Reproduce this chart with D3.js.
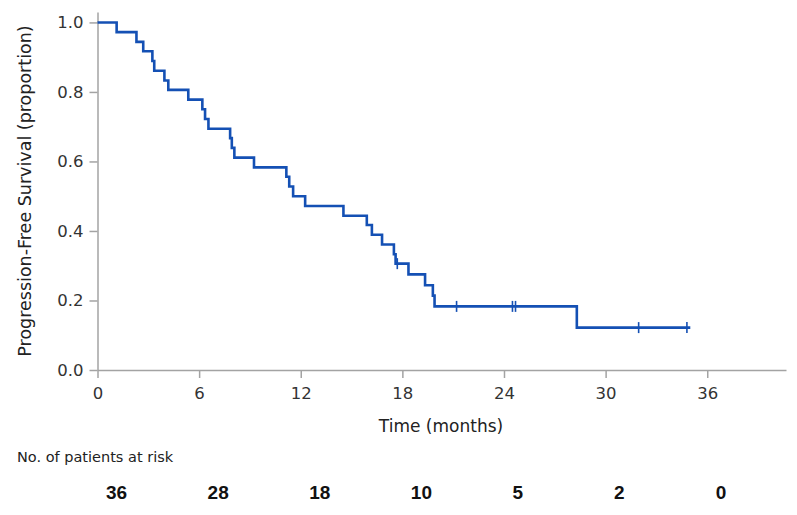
<!DOCTYPE html>
<html lang="en">
	<head>
		<meta charset="utf-8">
		<title>Progression-free survival</title>
		<script src="https://d3js.org/d3.v7.min.js"></script>
		<style type="text/css">
			body { margin: 0; background: #fff; }
			.axis path, .axis line { stroke: #a3a3a3; stroke-width: 1.5; }
			.axis text { font-family: "DejaVu Sans", sans-serif; font-size: 16.5px; fill: #333; }
		</style>
	</head>
	<body>
		<script type="text/javascript">
			//Width and height
			var w = 797;
			var h = 515;

			//Kaplan-Meier steps: time (months) and survival after the drop
			var stepTimes = [1.13, 2.3, 2.7, 3.24, 3.35, 3.95, 4.18, 5.36, 6.19, 6.35, 6.55,
				7.83, 7.93, 8.08, 9.24, 11.15, 11.32, 11.55, 12.26, 14.52, 15.9, 16.2, 16.8,
				17.5, 17.6, 18.36, 19.34, 19.8, 19.9, 28.3];
			var stepSurvival = [0.972, 0.944, 0.917, 0.889, 0.861, 0.833, 0.806, 0.778, 0.750, 0.722, 0.694,
				0.667, 0.639, 0.611, 0.583, 0.556, 0.528, 0.500, 0.472, 0.444, 0.417, 0.389, 0.361,
				0.333, 0.306, 0.275, 0.244, 0.214, 0.183, 0.122];
			var lastTime = 35.0;
			var lastSurvival = 0.122;

			//Censored observations
			var censorTimes = [17.7, 21.2, 24.5, 24.68, 31.95, 34.8];
			var censorSurvival = [0.306, 0.183, 0.183, 0.183, 0.122, 0.122];

			//Axis ticks and patients at risk
			var xTicks = [0, 6, 12, 18, 24, 30, 36];
			var yTicks = [0, 0.2, 0.4, 0.6, 0.8, 1.0];
			var atRisk = [36, 28, 18, 10, 5, 2, 0];

			var x = d3.scaleLinear().domain([0, 40.65]).range([97.5, 786]);
			var y = d3.scaleLinear().domain([0, 1.03]).range([370, 12]);

			//Create SVG element
			var svg = d3.select("body")
						.append("svg")
						.attr("width", w)
						.attr("height", h);

			//Axes
			svg.append("g")
				.attr("class", "axis")
				.attr("transform", "translate(0," + y(0) + ")")
				.call(d3.axisBottom(x).tickValues(xTicks).tickSizeInner(8).tickSizeOuter(0).tickPadding(9))
				.selectAll("text").attr("dy", "0.71em");

			svg.append("g")
				.attr("class", "axis")
				.attr("transform", "translate(" + x(0) + ",0)")
				.call(d3.axisLeft(y).tickValues(yTicks).tickFormat(d3.format(".1f")).tickSizeInner(8).tickSizeOuter(0).tickPadding(6));

			//Survival curve
			var pts = [[0, 1]];
			for (var i = 0; i < stepTimes.length; i++) {
				pts.push([stepTimes[i], stepSurvival[i]]);
			}
			pts.push([lastTime, lastSurvival]);

			var line = d3.line()
				.x(function(d) { return x(d[0]); })
				.y(function(d) { return y(d[1]); })
				.curve(d3.curveStepAfter);

			svg.append("path")
				.datum(pts)
				.attr("d", line)
				.attr("fill", "none")
				.attr("stroke", "#1450b4")
				.attr("stroke-width", 2.6);

			//Censor marks
			svg.selectAll("line.censor")
				.data(censorTimes)
				.enter()
				.append("line")
				.attr("class", "censor")
				.attr("x1", function(d) { return x(d); })
				.attr("x2", function(d) { return x(d); })
				.attr("y1", function(d, i) { return y(censorSurvival[i]) - 5.5; })
				.attr("y2", function(d, i) { return y(censorSurvival[i]) + 5.5; })
				.attr("stroke", "#1450b4")
				.attr("stroke-width", 1.6);

			//Axis titles
			svg.append("text")
				.attr("transform", "translate(31,191) rotate(-90)")
				.attr("text-anchor", "middle")
				.style("font-family", "DejaVu Sans, sans-serif")
				.style("font-size", "17.5px")
				.style("fill", "#222")
				.text("Progression-Free Survival (proportion)");

			svg.append("text")
				.attr("x", 441)
				.attr("y", 432)
				.attr("text-anchor", "middle")
				.style("font-family", "DejaVu Sans, sans-serif")
				.style("font-size", "17px")
				.style("fill", "#222")
				.text("Time (months)");

			//Patients at risk table
			svg.append("text")
				.attr("x", 17)
				.attr("y", 462)
				.style("font-family", "DejaVu Sans, sans-serif")
				.style("font-size", "14.5px")
				.style("fill", "#222")
				.text("No. of patients at risk");

			svg.selectAll("text.risk")
				.data(atRisk)
				.enter()
				.append("text")
				.attr("class", "risk")
				.attr("x", function(d, i) { return x(xTicks[i]) + 8.5; })
				.attr("y", 499)
				.style("font-family", "Liberation Sans, Arial, sans-serif")
				.style("font-weight", "bold")
				.style("font-size", "19px")
				.style("fill", "#111")
				.text(function(d) { return d; });
		</script>
	</body>
</html>
